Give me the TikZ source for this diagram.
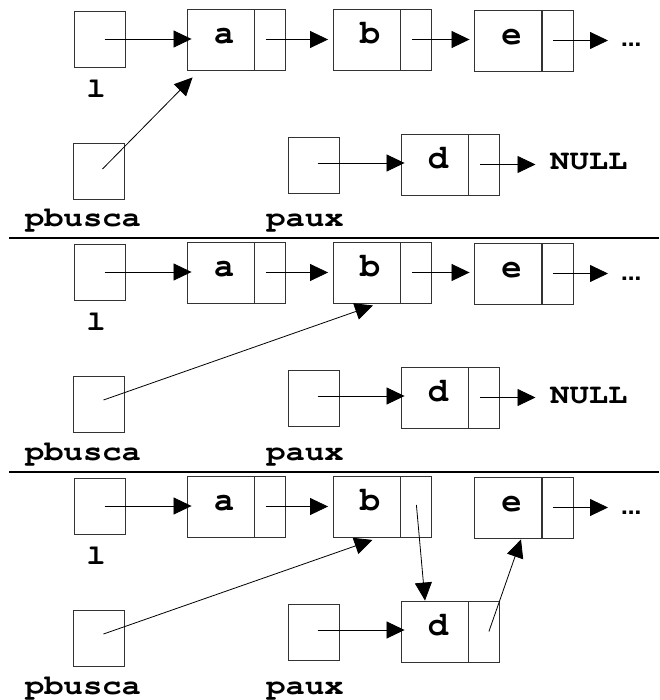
\documentclass[tikz,border=0pt]{standalone}
\usepackage[T1]{fontenc}
\usetikzlibrary{arrows.meta}

% typewriter (Courier) bold text and sans-serif bold for the trailing dots
\newcommand\cellfont{\fontencoding{T1}\fontfamily{pcr}\bfseries\fontsize{34}{34}\selectfont}
\newcommand\namefont{\fontencoding{T1}\fontfamily{pcr}\bfseries\fontsize{28}{28}\selectfont}
\newcommand\dotsfont{\fontencoding{T1}\fontfamily{phv}\bfseries\fontsize{24}{24}\selectfont}
% variable names are set slightly wide
\newcommand\widename[1]{\scalebox{1.15}[1]{#1}}

% a list element: data cell #4 named #1 centred at (#2,#3), followed by its "next" cell #1n
\newcommand\cellpair[4]{%
  \node[databox] (#1) at (#2,#3) {\hspace*{7pt}#4};
  \node[nextbox, anchor=west] (#1n) at (#1.east) {};}

% parts shared by the three states: variables l, pbusca, paux and the nodes a, b, e, d
\newcommand\basepanel[1]{%
  \node[ptrbox] (l#1) at (99.5,39) {};
  \node[ptrbox] (pb#1) at (98.5,171) {};
  \node[ptrbox] (px#1) at (313.5,165) {};
  \node[varname] (lname#1) at (96,97.5) {\widename{l}};
  \node[varname] (pbname#1) at (83,227) {\widename{pbusca}};
  \node[varname] (pxname#1) at (305,227) {\widename{paux}};
  \cellpair{a#1}{220.5}{39.5}{a}
  \cellpair{b#1}{366.5}{39.5}{b}
  \cellpair{e#1}{508}{40.5}{e}
  \cellpair{d#1}{434.5}{164.5}{d}
  \node[more] (dots#1) at (613,47) {...};
  \draw[link] ([xshift=5pt]l#1.center) -- ([xshift=5pt]l#1.center -| a#1.west);
  \draw[link] ([xshift=-4.5pt]a#1n.center) -- ([xshift=-4.5pt]a#1n.center -| b#1.west);
  \draw[link] ([xshift=-5pt]e#1n.center) -- ([xshift=-5pt]e#1n.center -| dots#1.west);
  \draw[link] ([xshift=4pt,yshift=2pt]px#1.center) -- ([xshift=4pt,yshift=2pt]px#1.center -| d#1.west);}

\begin{document}
\begin{tikzpicture}[x=1pt,y=-1pt,
  cellline/.style={draw=black!80, line width=0.9pt},
  ptrbox/.style={cellline, minimum width=51pt, minimum height=56pt, inner sep=0pt},
  databox/.style={cellline, minimum width=67pt, minimum height=61pt, inner sep=0pt,
    font=\cellfont, text height=8pt, text depth=0pt},
  nextbox/.style={cellline, minimum width=31pt, minimum height=61pt, inner sep=0pt},
  varname/.style={font=\namefont, anchor=base, inner sep=0pt},
  nullname/.style={font=\namefont, anchor=base west, inner ysep=0pt, inner xsep=10pt},
  more/.style={font=\dotsfont, anchor=base west, inner ysep=0pt, inner xsep=8pt},
  link/.style={draw=black, line width=0.8pt, -{Triangle[length=18pt,width=17pt]}},
  rule/.style={line width=2pt}
]
\useasboundingbox[fill=white] (0,0) rectangle (659,700);

% state 1: pbusca points to a, paux holds the new node d
\basepanel{1}
\node[nullname] (null1) at (540,170) {\widename{NULL}};
\draw[link] ([xshift=-4.5pt]b1n.center) -- ([xshift=-4.5pt]b1n.center -| e1.west);
\draw[link] ([xshift=-4.5pt]d1n.center) -- ([xshift=-4.5pt]d1n.center -| null1.west);
\draw[link] ([xshift=4pt,yshift=2pt]pb1.center) -- ([xshift=6pt,yshift=-7pt]a1.south west);

\draw[rule] (9,238) -- (659,238);

% state 2: pbusca advanced to b
\begin{scope}[yshift=-233pt]
\basepanel{2}
\node[nullname] (null2) at (540,170) {\widename{NULL}};
\draw[link] ([xshift=-4.5pt]b2n.center) -- ([xshift=-4.5pt]b2n.center -| e2.west);
\draw[link] ([xshift=-4.5pt]d2n.center) -- ([xshift=-4.5pt]d2n.center -| null2.west);
\draw[link] ([xshift=5pt,yshift=4pt]pb2.center) -- ([xshift=6.5pt,yshift=-2pt]b2.south);
\end{scope}

\draw[rule] (9,471.5) -- (659,471.5);

% state 3: d linked in between b and e
\begin{scope}[yshift=-467pt]
\basepanel{3}
\draw[link] ([xshift=5pt,yshift=4pt]pb3.center) -- ([xshift=6pt,yshift=-2.5pt]b3.south);
\draw[link] ([yshift=1.5pt]b3n.center) -- ([xshift=-9.5pt]d3.north);
\draw[link] ([xshift=4.5pt]d3n.center) -- ([xshift=13pt,yshift=-1pt]e3.south);
\end{scope}
\end{tikzpicture}
\end{document}
